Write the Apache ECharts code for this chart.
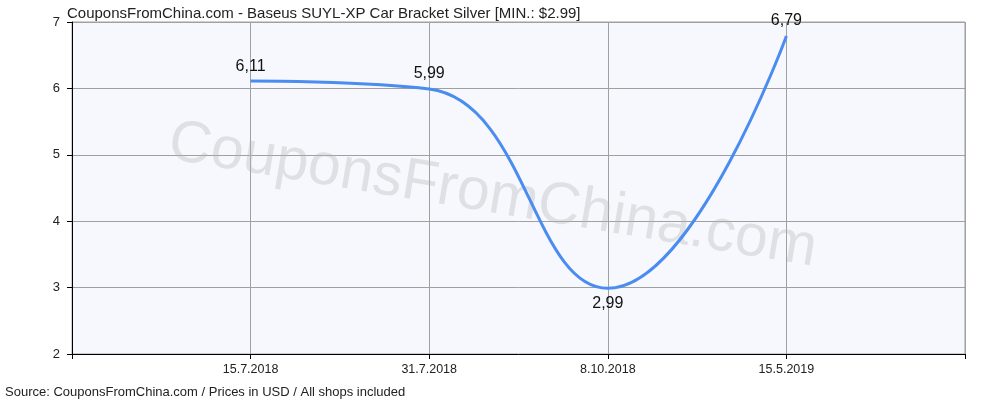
<!DOCTYPE html>
<html>
<head>
<meta charset="utf-8">
<script src="https://cdn.jsdelivr.net/npm/echarts@6/dist/echarts.min.js"></script>
<style>
  html, body { margin: 0; padding: 0; background: #fff; }
  #chart { width: 1000px; height: 400px; }
</style>
</head>
<body>
<div id="chart"></div>
<script>
// data
const categories = ['', '15.7.2018', '31.7.2018', '8.10.2018', '15.5.2019', ''];
const prices = ['-', 6.11, 5.99, 2.99, 6.79, '-'];
const labelPlaces = [null, 'top', 'top', 'bottom', 'top', null];
const yTicks = { min: 2, max: 7, step: 1 };

const font = 'Liberation Sans, Arial, sans-serif';

const myChart = echarts.init(document.getElementById('chart'));

const option = {
  animation: false,
  backgroundColor: '#ffffff',
  textStyle: { fontFamily: font },
  title: {
    text: 'CouponsFromChina.com - Baseus SUYL-XP Car Bracket Silver [MIN.: $2.99]',
    left: 62,
    top: 1,
    textStyle: { fontFamily: font, fontSize: 15, fontWeight: 'normal', color: '#222' }
  },
  graphic: [
    {
      type: 'text',
      left: 5,
      top: 386,
      style: { text: 'Source: CouponsFromChina.com / Prices in USD / All shops included', font: '13px ' + font, fill: '#222' }
    },
    {
      type: 'text',
      x: 174,
      y: 113,
      rotation: -0.165,
      z: 1,
      style: { text: 'CouponsFromChina.com', font: '59px ' + font, fill: 'rgba(180,180,180,0.35)' }
    }
  ],
  grid: {
    left: 72,
    right: 35,
    top: 22,
    bottom: 46,
    show: true,
    backgroundColor: '#f6f8fe',
    borderColor: '#a0a0a0',
    borderWidth: 1
  },
  xAxis: {
    type: 'category',
    boundaryGap: false,
    data: categories,
    axisLine: { lineStyle: { color: '#000', width: 1 } },
    axisTick: { show: true, length: 5, inside: false, lineStyle: { color: '#000' } },
    axisLabel: { color: '#222', fontSize: 12.5, margin: 9, fontFamily: font },
    splitLine: { show: true, lineStyle: { color: '#a0a0a0', width: 1 } }
  },
  yAxis: {
    type: 'value',
    min: yTicks.min,
    max: yTicks.max,
    interval: yTicks.step,
    axisLine: { show: true, lineStyle: { color: '#000', width: 1 } },
    axisTick: { show: true, length: 5, lineStyle: { color: '#000' } },
    axisLabel: { color: '#222', fontSize: 13, margin: 12, fontFamily: font },
    splitLine: { show: true, lineStyle: { color: '#a0a0a0', width: 1 } }
  },
  series: [{
    type: 'line',
    data: prices.map((v, i) => ({
      value: v,
      label: { show: v !== '-', position: labelPlaces[i] || 'top' }
    })),
    smooth: 0.45,
    symbol: 'circle',
    symbolSize: 2,
    showSymbol: true,
    itemStyle: { color: 'rgba(74,140,240,0)' },
    z: 5,
    lineStyle: { color: '#4a8cf0', width: 3 },
    label: {
      show: true,
      color: '#111',
      fontSize: 16,
      fontFamily: font,
      distance: 6,
      formatter: p => String(p.value).replace('.', ',')
    }
  }]
};

myChart.setOption(option);
</script>
</body>
</html>
